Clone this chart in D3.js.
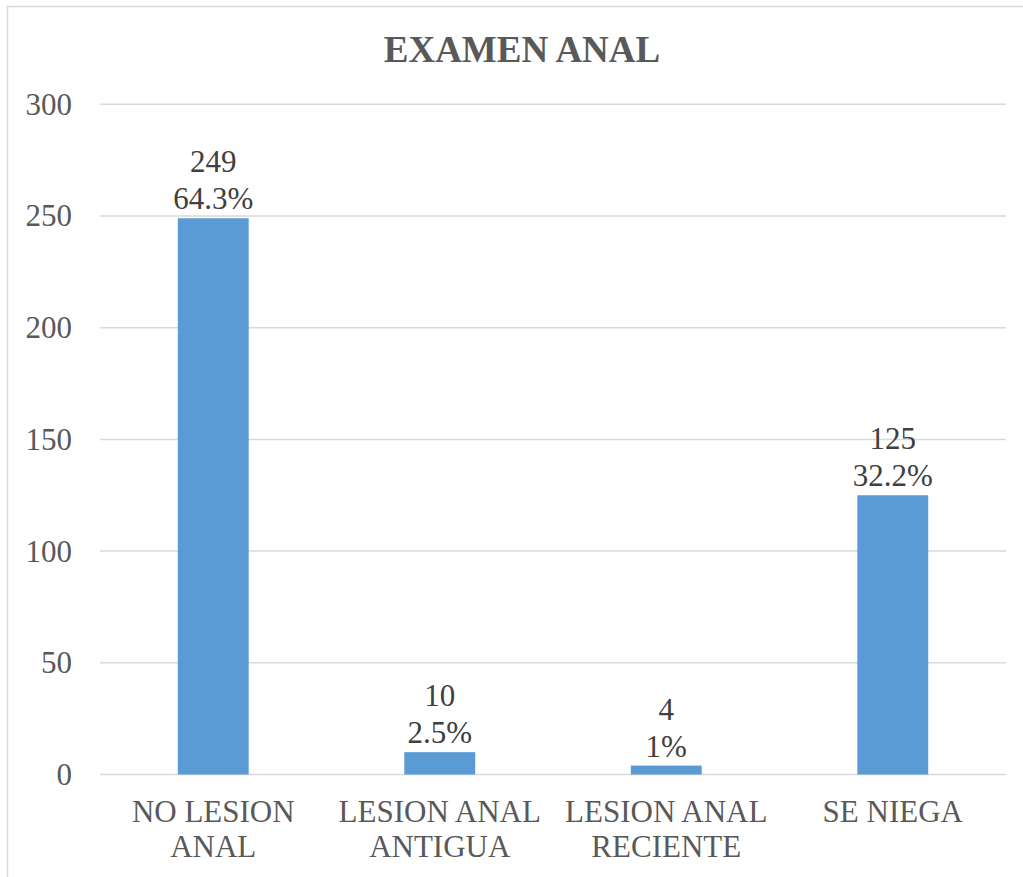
<!DOCTYPE html>
<html>
<head>
<meta charset="utf-8">
<script src="https://cdn.jsdelivr.net/npm/d3@7"></script>
<style>
  body { margin: 0; background: #fff; }
  svg text { font-family: "Times New Roman", "Liberation Serif", Tinos, "DejaVu Serif", serif; }
</style>
</head>
<body>
<div id="chart"></div>
<script>
const categories = [["NO LESION", "ANAL"], ["LESION ANAL", "ANTIGUA"], ["LESION ANAL", "RECIENTE"], ["SE NIEGA"]];
const values = [249, 10, 4, 125];
const percents = ["64.3%", "2.5%", "1%", "32.2%"];
const yTicks = [0, 50, 100, 150, 200, 250, 300];

const W = 1023, H = 877;
const PLOT = { LEFT: 100, RIGHT: 1006, TOP: 104.3, BOTTOM: 774.5 };

const svg = d3.select("#chart").append("svg")
  .attr("width", W)
  .attr("height", H);

svg.append("rect")
  .attr("x", 7.5).attr("y", 6.5)
  .attr("width", 1040).attr("height", 900)
  .attr("fill", "#fff")
  .attr("stroke", "#d9d9d9")
  .attr("stroke-width", 1.5);

const x = d3.scaleBand()
  .domain(d3.range(categories.length))
  .range([PLOT.LEFT, PLOT.RIGHT])
  .paddingInner(0.687)
  .paddingOuter(0.3435);

const y = d3.scaleLinear()
  .domain([0, 300])
  .range([PLOT.BOTTOM, PLOT.TOP]);

// gridlines
svg.append("g")
  .selectAll("line")
  .data(yTicks)
  .join("line")
  .attr("x1", PLOT.LEFT).attr("x2", PLOT.RIGHT)
  .attr("y1", d => y(d)).attr("y2", d => y(d))
  .attr("stroke", "#d9d9d9")
  .attr("stroke-width", 1.5);

// y axis labels
const yAxis = d3.axisLeft(y).tickValues(yTicks).tickSize(0).tickPadding(28);
svg.append("g")
  .attr("transform", `translate(${PLOT.LEFT},0)`)
  .call(yAxis)
  .call(g => g.select(".domain").remove())
  .call(g => g.attr("font-family", null))
  .selectAll("text")
  .attr("font-size", 31)
  .attr("fill", "#595959");

// bars
svg.append("g")
  .selectAll("rect")
  .data(values)
  .join("rect")
  .attr("x", (d, i) => x(i))
  .attr("width", x.bandwidth())
  .attr("y", d => y(d))
  .attr("height", d => y(0) - y(d))
  .attr("fill", "#5b9bd5");

// data labels
const lbl = svg.append("g")
  .selectAll("text")
  .data(values)
  .join("text")
  .attr("x", (d, i) => x(i) + x.bandwidth() / 2)
  .attr("y", d => y(d) - 9)
  .attr("text-anchor", "middle")
  .attr("font-size", 31)
  .attr("fill", "#404040");
lbl.append("tspan")
  .attr("x", (d, i) => x(i) + x.bandwidth() / 2)
  .attr("dy", -37)
  .text(d => d);
lbl.append("tspan")
  .attr("x", (d, i) => x(i) + x.bandwidth() / 2)
  .attr("dy", 37)
  .text((d, i) => percents[i]);

// category labels
const cat = svg.append("g")
  .selectAll("text")
  .data(categories)
  .join("text")
  .attr("text-anchor", "middle")
  .attr("font-size", 31)
  .attr("fill", "#595959");
cat.selectAll("tspan")
  .data((d, i) => d.map(t => ({ t, i })))
  .join("tspan")
  .attr("x", d => x(d.i) + x.bandwidth() / 2)
  .attr("y", (d, j) => 821.5 + j * 35.5)
  .text(d => d.t);

// title
svg.append("text")
  .attr("x", 522)
  .attr("y", 62)
  .attr("text-anchor", "middle")
  .attr("font-size", 37)
  .attr("font-weight", "bold")
  .attr("fill", "#595959")
  .text("EXAMEN ANAL");
</script>
</body>
</html>
